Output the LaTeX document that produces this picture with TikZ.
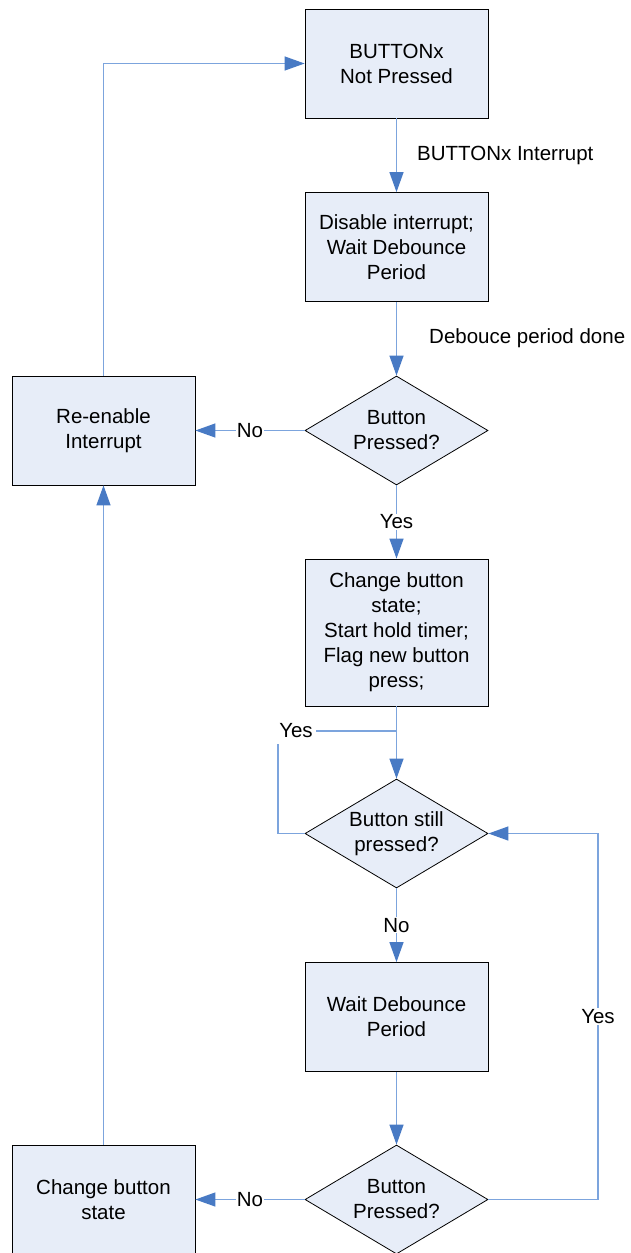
\documentclass[tikz,border=0pt]{standalone}
\usepackage{fontspec}
\setmainfont{Liberation Sans}
\usetikzlibrary{arrows.meta,shapes.geometric}
\definecolor{lineblue}{RGB}{124,164,221}
\definecolor{arrowblue}{RGB}{72,122,196}
\definecolor{boxfill}{RGB}{231,237,248}
\tikzset{
  procbox/.style={draw=black, line width=0.8pt, fill=boxfill, rectangle,
    minimum width=183pt, minimum height=109pt, inner sep=0pt, align=center,
    font=\fontsize{20.5}{25}\selectfont},
  decbox/.style={draw=black, line width=0.8pt, fill=boxfill, diamond, aspect=1.679,
    minimum width=183pt, minimum height=109pt, inner sep=0pt, align=center,
    font=\fontsize{20.5}{25}\selectfont},
  conn/.style={draw=lineblue, line width=1.3pt},
  arr/.style={conn, -{Triangle[length=20pt,width=14pt,color=arrowblue]}},
  lbl/.style={fill=white, inner sep=1pt, font=\fontsize{20.5}{25}\selectfont},
  sidelbl/.style={anchor=west, inner sep=0pt, font=\fontsize{20.5}{25}\selectfont}
}
\begin{document}
\begin{tikzpicture}[x=1pt,y=-1pt]
\useasboundingbox (0,0) rectangle (630,1253);
% nodes
\node[procbox] (b1) at (396.5,63.5) {BUTTONx\\Not Pressed};
\node[procbox] (b2) at (396.5,247) {Disable interrupt;\\Wait Debounce\\Period};
\node[decbox] (d1) at (396.5,430.5) {Button\\Pressed?};
\node[procbox] (re) at (103.5,430.5) {Re-enable\\Interrupt};
\node[procbox, minimum height=147pt] (b4) at (396.5,632.5) {Change button\\state;\\Start hold timer;\\Flag new button\\press;};
\node[decbox] (d2) at (396.5,833.5) {Button still\\pressed?};
\node[procbox] (b5) at (396.5,1017) {Wait Debounce\\Period};
\node[decbox] (d3) at (396.5,1199.5) {Button\\Pressed?};
\node[procbox] (b6) at (103.5,1199.5) {Change button\\state};
% helper coordinates
\coordinate (cy) at (278,731);
\coordinate (jy) at (396.5,731);
\coordinate (r1) at (598,1199.5);
\coordinate (r2) at (598,833.5);
% connectors
\draw[arr] (re.north) |- (b1.west);
\draw[arr] (b1.south) -- (b2.north);
\node[sidelbl] (l1) at (417,155) {BUTTONx Interrupt};
\draw[arr] (b2.south) -- (d1.north);
\node[sidelbl] (l2) at (429,338) {Debouce period done};
\draw[arr] (d1.west) -- node[lbl]{No} (re.east);
\draw[arr] (d1.south) -- node[lbl]{Yes} (b4.north);
\draw[arr] (b4.south) -- (d2.north);
\draw[conn] (d2.west) -| (cy) -- node[lbl,inner ysep=6pt,inner xsep=3pt,pos=0.152]{Yes} (jy);
\draw[arr] (d2.south) -- node[lbl]{No} (b5.north);
\draw[arr] (b5.south) -- (d3.north);
\draw[arr] (d3.east) -- (r1) -- node[lbl]{Yes} (r2) -- (d2.east);
\draw[arr] (d3.west) -- node[lbl]{No} (b6.east);
\draw[arr] (b6.north) -- (re.south);
\end{tikzpicture}
\end{document}
